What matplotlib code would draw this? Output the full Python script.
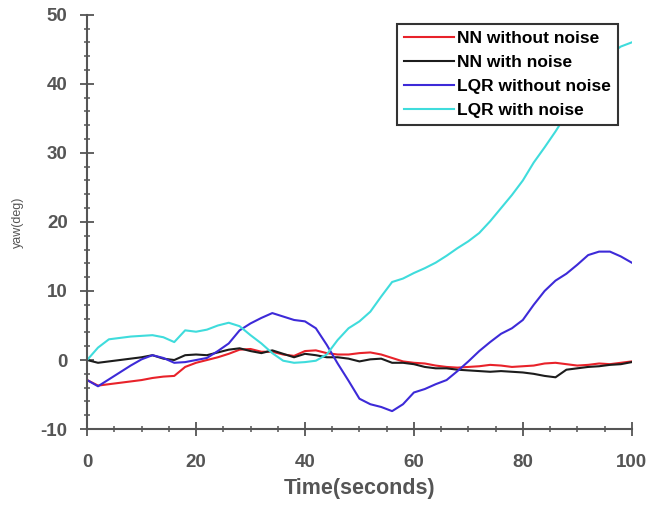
#!/usr/bin/env python
# -*- coding: utf-8 -*-

import matplotlib
matplotlib.use('Agg')
import matplotlib.pyplot as plt
from matplotlib.ticker import MultipleLocator

# Yaw response over a 100 s run, sampled every 2 s
time_s = list(range(0, 101, 2))

nn_without_noise = [
    -2.9, -3.7, -3.5, -3.3, -3.1, -2.9, -2.6, -2.4, -2.3, -1.0,
    -0.4, 0.0, 0.4, 0.9, 1.5, 1.6, 1.2, 1.2, 0.8, 0.6,
    1.3, 1.4, 1.0, 0.8, 0.8, 1.0, 1.1, 0.8, 0.3, -0.2,
    -0.4, -0.5, -0.8, -1.0, -1.1, -1.0, -0.9, -0.7, -0.8, -1.0,
    -0.9, -0.8, -0.5, -0.4, -0.6, -0.8, -0.7, -0.5, -0.6, -0.4,
    -0.2,
]
nn_with_noise = [
    0.0, -0.4, -0.2, 0.0, 0.2, 0.4, 0.7, 0.2, 0.0, 0.7,
    0.8, 0.7, 1.1, 1.5, 1.7, 1.3, 1.0, 1.4, 0.9, 0.4,
    0.9, 0.7, 0.4, 0.4, 0.2, -0.2, 0.1, 0.2, -0.4, -0.4,
    -0.6, -1.0, -1.2, -1.2, -1.4, -1.5, -1.6, -1.7, -1.6, -1.7,
    -1.8, -2.0, -2.3, -2.5, -1.4, -1.2, -1.0, -0.9, -0.7, -0.6,
    -0.3,
]
lqr_without_noise = [
    -2.9, -3.8, -2.8, -1.8, -0.8, 0.1, 0.7, 0.3, -0.4, -0.3,
    0.0, 0.3, 1.3, 2.4, 4.3, 5.3, 6.1, 6.8, 6.3, 5.8,
    5.6, 4.6, 2.2, -0.5, -3.0, -5.6, -6.4, -6.8, -7.4, -6.4,
    -4.7, -4.2, -3.5, -2.9, -1.6, -0.2, 1.3, 2.6, 3.8, 4.6,
    5.8, 8.0, 10.0, 11.5, 12.5, 13.8, 15.2, 15.7, 15.7, 15.0,
    14.1,
]
lqr_with_noise = [
    0.0, 1.8, 3.0, 3.2, 3.4, 3.5, 3.6, 3.3, 2.6, 4.3,
    4.1, 4.4, 5.0, 5.4, 4.9, 3.6, 2.4, 1.0, -0.1, -0.4,
    -0.3, -0.1, 0.8, 2.9, 4.6, 5.6, 7.0, 9.2, 11.3, 11.8,
    12.6, 13.3, 14.1, 15.1, 16.2, 17.2, 18.4, 20.1, 22.0, 23.9,
    26.0, 28.6, 30.8, 33.1, 35.6, 38.0, 40.4, 42.6, 44.3, 45.4,
    46.0,
]

series = [
    ('NN without noise', nn_without_noise, '#e8222a'),
    ('NN with noise', nn_with_noise, '#1c1c1c'),
    ('LQR without noise', lqr_without_noise, '#3d2ad8'),
    ('LQR with noise', lqr_with_noise, '#3fdcdc'),
]

GREY = '#555555'
plt.rcParams['font.family'] = ['Liberation Sans', 'DejaVu Sans']
plt.rcParams['axes.unicode_minus'] = False

fig = plt.figure(figsize=(6.65, 5.09), dpi=100)
ax = fig.add_axes([0.131, 0.157, 0.819, 0.814])

for label, values, color in series:
    ax.plot(time_s, values, color=color, linewidth=1.5, label=label)

ax.set_xlim(0, 100)
ax.set_ylim(-10, 50)

ax.spines['top'].set_visible(False)
ax.spines['right'].set_visible(False)
for side in ('left', 'bottom'):
    ax.spines[side].set_color(GREY)
    ax.spines[side].set_linewidth(1.5)

ax.xaxis.set_major_locator(MultipleLocator(20))
ax.xaxis.set_minor_locator(MultipleLocator(5))
ax.yaxis.set_major_locator(MultipleLocator(10))
ax.yaxis.set_minor_locator(MultipleLocator(2))
ax.tick_params(which='major', direction='inout', length=10, width=1.3,
               color=GREY, labelcolor=GREY, labelsize=13.5)
ax.tick_params(which='minor', direction='inout', length=5, width=1.1, color=GREY)
ax.tick_params(axis='x', which='major', pad=13)
ax.tick_params(axis='y', which='major', pad=9)
for lbl in ax.get_xticklabels() + ax.get_yticklabels():
    lbl.set_fontweight('bold')

ax.set_xlabel('Time(seconds)', fontsize=15.5, fontweight='bold', color=GREY, labelpad=5)
ax.set_ylabel('yaw(deg)', fontsize=9, color=GREY, labelpad=12)

leg = ax.legend(loc='upper right', bbox_to_anchor=(0.974, 0.977), fancybox=False,
                edgecolor='#333333', framealpha=1.0, handlelength=2.9,
                handletextpad=0.15, labelspacing=0.5, borderpad=0.4,
                borderaxespad=0.0,
                prop={'weight': 'bold', 'size': 12.5})
leg.get_frame().set_linewidth(1.5)

fig.savefig('out.png', dpi=100)
